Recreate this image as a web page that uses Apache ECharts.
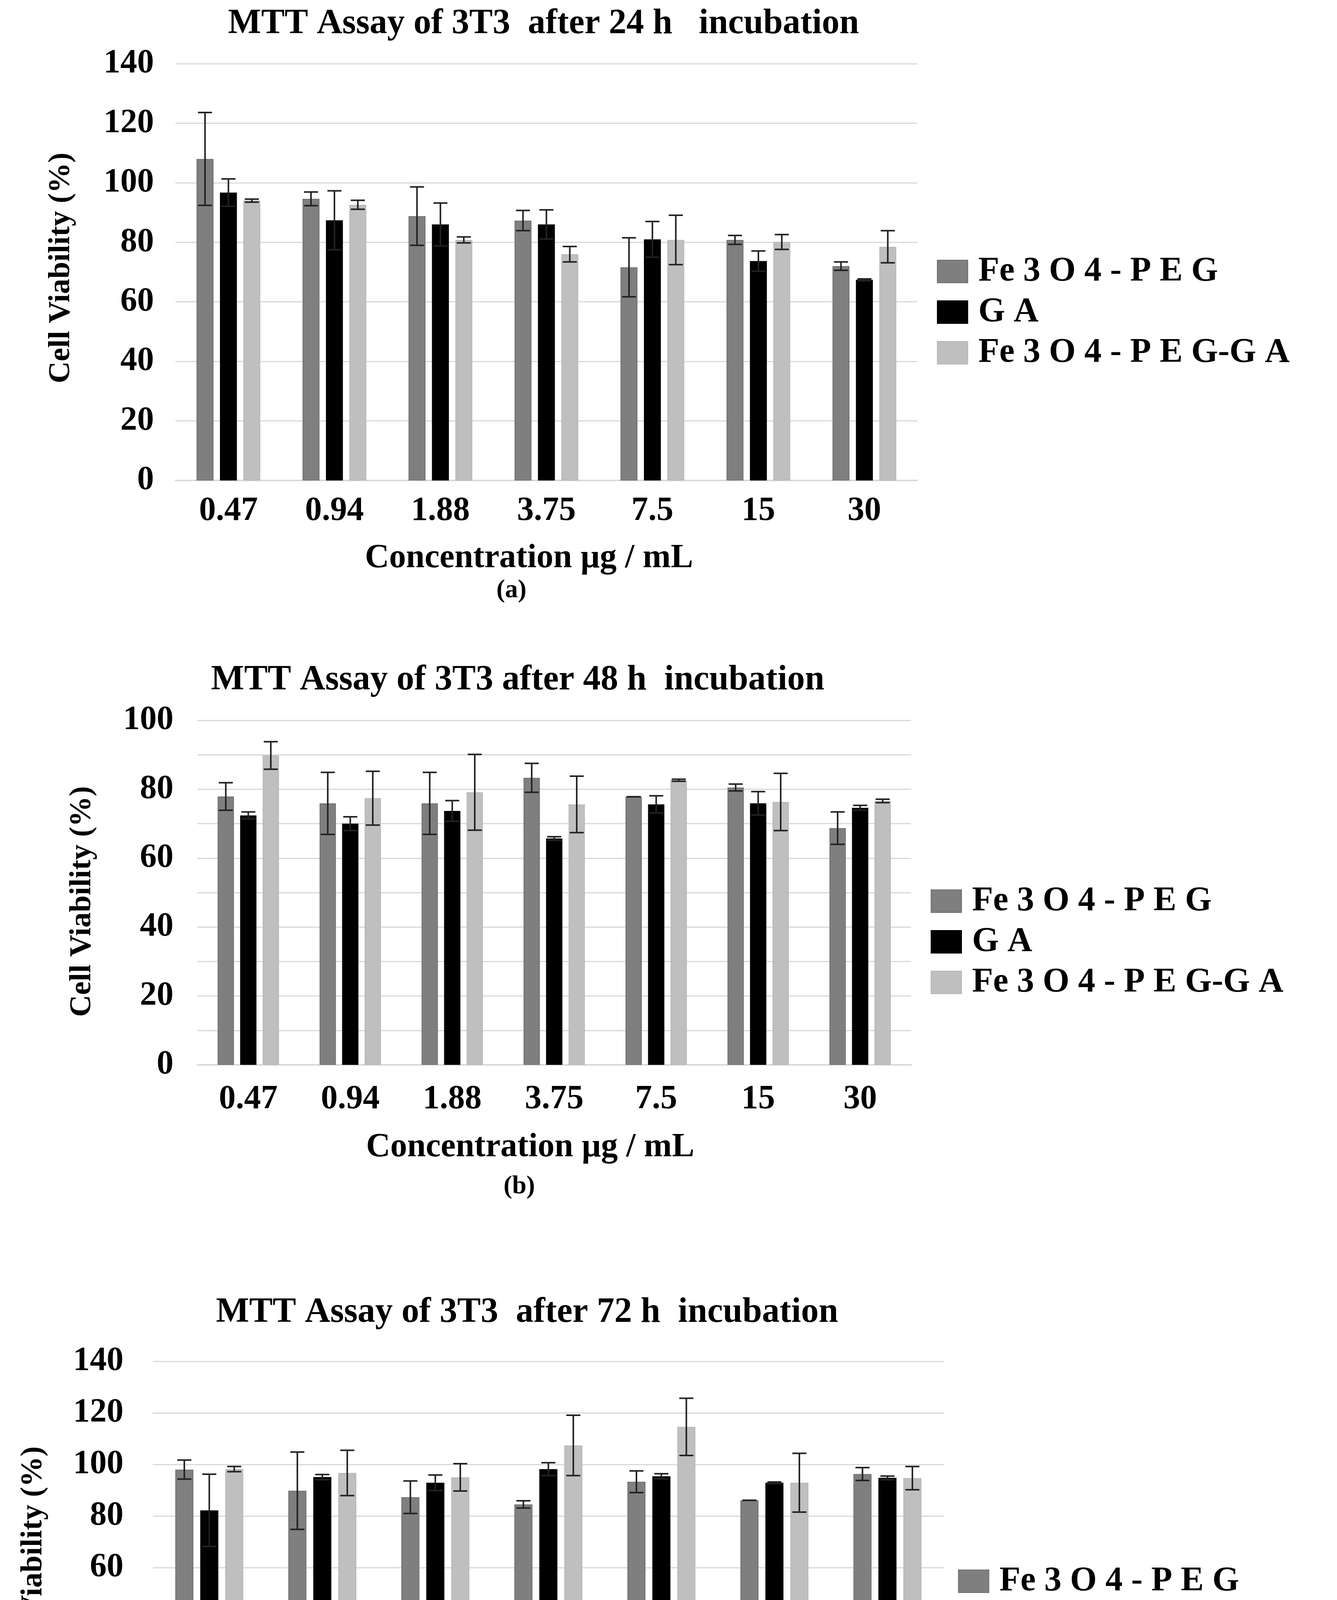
<!DOCTYPE html>
<html>
<head>
<meta charset="utf-8">
<script src="https://cdn.jsdelivr.net/npm/echarts@6/dist/echarts.min.js"></script>
<style>
  html, body { margin: 0; padding: 0; background: #fff; }
  #main { width: 3422px; height: 4770px; }
</style>
</head>
<body>
<div id="main"></div>
<script>
// concentrations (µg / mL)
const categories = ['0.47', '0.94', '1.88', '3.75', '7.5', '15', '30'];
const seriesNames = ['Fe 3 O 4 - P E G', 'G A', 'Fe 3 O 4 - P E G-G A'];
const seriesColors = ['#7f7f7f', '#000000', '#bfbfbf'];
const borderColors = ['#707070', '#000000', '#b8b8b8'];

// 24 h
const peg24 = [108, 94.6, 88.8, 87.3, 71.6, 80.8, 72];
const pegErr24 = [15.6, 2.3, 9.8, 3.4, 9.9, 1.5, 1.4];
const ga24 = [96.7, 87.4, 86, 86, 81, 73.7, 67.4];
const gaErr24 = [4.6, 9.9, 7.2, 4.9, 6, 3.4, 0.3];
const pegga24 = [94, 92.6, 80.8, 76, 80.8, 80.1, 78.5];
const peggaErr24 = [0.5, 1.5, 1, 2.6, 8.3, 2.5, 5.4];

// 48 h
const peg48 = [77.9, 75.9, 75.9, 83.3, 77.8, 80.5, 68.7];
const pegErr48 = [4, 9, 9, 4.2, 0, 1, 4.7];
const ga48 = [72.4, 70, 73.7, 65.7, 75.6, 75.9, 74.6];
const gaErr48 = [1, 2, 3, 0.5, 2.5, 3.4, 0.7];
const pegga48 = [89.8, 77.4, 79.1, 75.6, 82.6, 76.3, 76.6];
const peggaErr48 = [4, 7.8, 11, 8.2, 0.3, 8.3, 0.5];

// 72 h
const peg72 = [98, 89.8, 87.3, 84.5, 93.3, 86.1, 96.3];
const pegErr72 = [3.7, 15, 6.3, 1.4, 4.2, 0, 2.5];
const ga72 = [82.2, 95.1, 92.9, 98.2, 95.4, 92.9, 94.8];
const gaErr72 = [14, 1, 3, 2.5, 1, 0.3, 0.7];
const pegga72 = [98.2, 96.7, 95, 107.4, 114.6, 92.9, 94.7];
const peggaErr72 = [1, 8.8, 5.3, 11.7, 11.1, 11.4, 4.5];

const FONT = "'Liberation Serif', 'Times New Roman', serif";

var chartDom = document.getElementById('main');
var myChart = echarts.init(chartDom);

var panels = [
    {
        title: 'MTT Assay of 3T3  after 24 h   incubation', tag: '(a)',
        values: [peg24, ga24, pegga24], errors: [pegErr24, gaErr24, peggaErr24],
        grid: { left: 449, top: 163, width: 1899, height: 1067 },
        max: 140, interval: 20, labelStep: 20, labelMargin: 55, xLabelMargin: 36,
        titlePos: [1391, 62], yNamePos: [157, 686], xNamePos: [1354, 1430], tagPos: [1309, 1512],
        legend: { left: 2393, top: 646 }
    },
    {
        title: 'MTT Assay of 3T3 after 48 h  incubation', tag: '(b)',
        values: [peg48, ga48, pegga48], errors: [pegErr48, gaErr48, peggaErr48],
        grid: { left: 505, top: 1844, width: 1827, height: 882 },
        max: 100, interval: 10, labelStep: 20, labelMargin: 61, xLabelMargin: 46,
        titlePos: [1325, 1742], yNamePos: [211, 2308], xNamePos: [1357, 2938], tagPos: [1329, 3038],
        legend: { left: 2377, top: 2258 }
    },
    {
        title: 'MTT Assay of 3T3  after 72 h  incubation', tag: '(c)',
        values: [peg72, ga72, pegga72], errors: [pegErr72, gaErr72, peggaErr72],
        grid: { left: 391, top: 3485, width: 2025, height: 924 },
        max: 140, interval: 20, labelStep: 20, labelMargin: 75, xLabelMargin: 48,
        titlePos: [1349, 3361], yNamePos: [86, 3998], xNamePos: [1314, 4617], tagPos: [1233, 4704],
        legend: { left: 2447, top: 3999 }
    }
];

const barFrac = 0.16;   // bar width / band width
const gapFrac = 0.38;   // gap / bar width

function errorBar(k) {
    return function (params, api) {
        var idx = api.value(0), v = api.value(1), e = api.value(2);
        var band = api.size([1, 0])[0];
        var w = band * barFrac;
        var off = (k - 1) * w * (1 + gapFrac);
        var hi = api.coord([idx, v + e]);
        var lo = api.coord([idx, v - e]);
        var x = hi[0] + off;
        var cap = 18;
        var st = { stroke: '#222', lineWidth: 4 };
        return {
            type: 'group',
            children: [
                { type: 'line', shape: { x1: x, y1: hi[1], x2: x, y2: lo[1] }, style: st },
                { type: 'line', shape: { x1: x - cap, y1: hi[1], x2: x + cap, y2: hi[1] }, style: st },
                { type: 'line', shape: { x1: x - cap, y1: lo[1], x2: x + cap, y2: lo[1] }, style: st }
            ]
        };
    };
}

function txt(text, pos, size, rotate) {
    return {
        type: 'text', x: pos[0], y: pos[1], rotation: rotate ? Math.PI / 2 : 0,
        style: {
            text: text, fill: '#000', fontFamily: FONT, fontWeight: 'bold', fontSize: size,
            textAlign: 'center', textVerticalAlign: 'middle', align: 'center', verticalAlign: 'middle'
        }
    };
}

var option = {
    backgroundColor: '#fff',
    animation: false,
    grid: [], xAxis: [], yAxis: [], series: [], legend: [], graphic: []
};

panels.forEach(function (p, i) {
    option.grid.push(p.grid);
    option.xAxis.push({
        type: 'category', gridIndex: i, data: categories,
        axisLine: { lineStyle: { color: '#d9d9d9', width: 4 } },
        axisTick: { show: false },
        axisLabel: { color: '#000', fontFamily: FONT, fontWeight: 'bold', fontSize: 86, margin: p.xLabelMargin }
    });
    option.yAxis.push({
        type: 'value', gridIndex: i, min: 0, max: p.max, interval: p.interval,
        axisLine: { show: false }, axisTick: { show: false },
        splitLine: { lineStyle: { color: '#d9d9d9', width: 3 } },
        axisLabel: {
            color: '#000', fontFamily: FONT, fontWeight: 'bold', fontSize: 86, margin: p.labelMargin,
            formatter: function (v) { return v % p.labelStep === 0 ? v : ''; }
        }
    });
    p.values.forEach(function (vals, k) {
        option.series.push({
            name: seriesNames[k], type: 'bar', xAxisIndex: i, yAxisIndex: i,
            data: vals, barWidth: (barFrac * 100) + '%', barGap: (gapFrac * 100) + '%',
            itemStyle: { color: seriesColors[k], borderColor: borderColors[k], borderWidth: 2 }
        });
    });
    p.values.forEach(function (vals, k) {
        option.series.push({
            type: 'custom', xAxisIndex: i, yAxisIndex: i, z: 5,
            renderItem: errorBar(k),
            encode: { x: 0, y: 1 },
            data: vals.map(function (v, j) { return [j, v, p.errors[k][j]]; })
        });
    });
    option.legend.push({
        orient: 'vertical', left: p.legend.left, top: p.legend.top,
        data: seriesNames, icon: 'rect', itemWidth: 78, itemHeight: 58, itemGap: 16,
        selectedMode: false,
        textStyle: { color: '#000', fontFamily: FONT, fontWeight: 'bold', fontSize: 88, padding: [0, 0, 0, 22] }
    });
    option.graphic.push(txt(p.title, p.titlePos, 90));
    option.graphic.push(txt('Cell Viability (%)', p.yNamePos, 78, true));
    option.graphic.push(txt('Concentration µg / mL', p.xNamePos, 86));
    option.graphic.push(txt(p.tag, p.tagPos, 66));
});

option && myChart.setOption(option);
</script>
</body>
</html>
